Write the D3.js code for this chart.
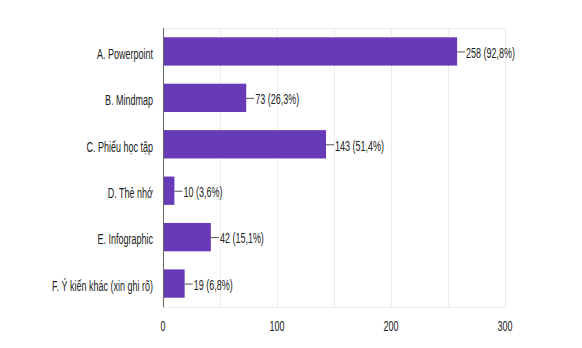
<!DOCTYPE html>
<html>
<head>
<meta charset="utf-8">
<script src="https://cdn.jsdelivr.net/npm/d3@7"></script>
<style>
  body { margin: 0; background: #fff; }
  text { font-family: "Liberation Sans", Arial, sans-serif; }
</style>
</head>
<body>
<div id="chart"></div>
<script>
const categories = [
  "A. Powerpoint",
  "B. Mindmap",
  "C. Phiếu học tập",
  "D. Thẻ nhớ",
  "E. Infographic",
  "F. Ý kiến khác (xin ghi rõ)",
];
const counts = [258, 73, 143, 10, 42, 19];
const percents = ["92,8%", "26,3%", "51,4%", "3,6%", "15,1%", "6,8%"];
const xTicks = [0, 100, 200, 300];
const gridTicks = [50, 100, 150, 200, 250, 300];

const width = 582, height = 348;
const margin = { top: 28, right: 77, bottom: 41, left: 163 };
const w = width - margin.left - margin.right;
const h = height - margin.top - margin.bottom;

// the source picture is squeezed sideways, so text is narrowed to match
const squeeze = 0.6;
const fontSize = 15;

const svg = d3.select("#chart").append("svg")
  .attr("width", width)
  .attr("height", height);

const g = svg.append("g")
  .attr("transform", `translate(${margin.left},${margin.top})`);

const x = d3.scaleLinear().domain([0, 300]).range([0, w]);
const y = d3.scaleBand().domain(categories).range([0, h]).paddingInner(0.39).paddingOuter(0.2);

function label(sel, px, py, txt, anchor, dy) {
  sel.append("text")
    .attr("transform", `translate(${px},${py}) scale(${squeeze},1)`)
    .attr("dy", dy)
    .attr("text-anchor", anchor)
    .attr("font-size", fontSize)
    .attr("fill", "#222")
    .text(txt);
}

// grid lines
g.selectAll(".grid")
  .data(gridTicks)
  .enter().append("line")
  .attr("x1", d => x(d) + 0.5).attr("x2", d => x(d) + 0.5)
  .attr("y1", 0).attr("y2", h)
  .attr("stroke", "#ebebeb");

// top and bottom frame lines
[0, h].forEach(yy => {
  g.append("line")
    .attr("x1", 0).attr("x2", x(300))
    .attr("y1", yy + 0.5).attr("y2", yy + 0.5)
    .attr("stroke", "#ebebeb");
});

// bars
g.selectAll(".bar")
  .data(categories)
  .enter().append("rect")
  .attr("x", 0)
  .attr("y", d => y(d))
  .attr("width", (d, i) => x(counts[i]))
  .attr("height", y.bandwidth())
  .attr("fill", "#673ab7");

// left axis line
g.append("line")
  .attr("x1", 0.5).attr("x2", 0.5)
  .attr("y1", 0).attr("y2", h)
  .attr("stroke", "#666");

// value labels with connector
categories.forEach((c, i) => {
  const xe = x(counts[i]);
  const yc = y(c) + y.bandwidth() / 2;
  g.append("line")
    .attr("x1", xe).attr("x2", xe + 8)
    .attr("y1", yc + 0.5).attr("y2", yc + 0.5)
    .attr("stroke", "#555");
  label(g, xe + 9, yc + 1, `${counts[i]} (${percents[i]})`, "start", "0.35em");
});

// category labels
categories.forEach(c => {
  label(g, -10, y(c) + y.bandwidth() / 2 + 2, c, "end", "0.35em");
});

// x axis tick labels
xTicks.forEach(t => {
  label(g, x(t), h + 19, t, "middle", "0.35em");
});
</script>
</body>
</html>
